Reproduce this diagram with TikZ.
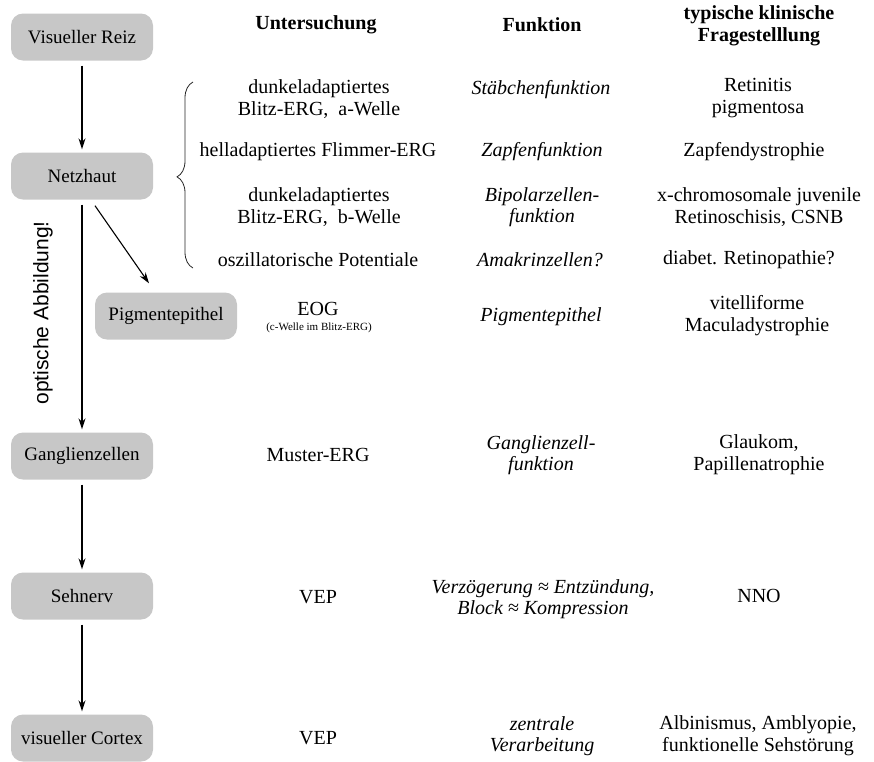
\documentclass[tikz,border=0pt]{standalone}
\usepackage{fontspec}
\setmainfont{Liberation Serif}
\newfontfamily\abbfont{Liberation Sans}
\usetikzlibrary{arrows.meta,calc,decorations.pathreplacing}

\tikzset{
    stufe/.style={fill=black!22, rounded corners=12pt, minimum width=142pt,
        minimum height=47pt, inner sep=0pt, font=\fontsize{19}{22}\selectfont},
    zelle/.style={align=center, inner sep=0pt, font=\fontsize{20}{22}\selectfont},
    kursiv/.style={zelle, font=\fontsize{20}{21}\selectfont\itshape},
    kopf/.style={zelle, font=\fontsize{20}{22}\selectfont\bfseries},
    pfeil/.style={-{Stealth[length=11pt,width=7pt]}, line width=1.1pt,
        shorten >=3pt, shorten <=5pt},
}

\begin{document}
\begin{tikzpicture}[x=1pt,y=-1pt]
    \useasboundingbox (0,0) rectangle (874,761);

    % Stationen der Sehbahn
    \node[stufe] (reiz) at (82,37) {Visueller Reiz};
    \node[stufe] (netz) at (82,176) {Netzhaut};
    \node[stufe] (pig) at (166,316) {Pigmentepithel};
    \node[stufe] (gang) at (82,456) {Ganglienzellen};
    \node[stufe] (sehn) at (82,596) {Sehnerv};
    \node[stufe] (cortex) at (82,738) {visueller Cortex};

    \draw[pfeil] (reiz) -- (netz);
    \draw[pfeil] (netz) -- (gang);
    \draw[pfeil] (gang) -- (sehn);
    \draw[pfeil] (sehn) -- (cortex);
    \draw[pfeil, shorten <=0pt, shorten >=0pt] ($(netz.south)+(13,6)$) -- ($(pig.north)+(-17,-9)$);

    \node[rotate=90, inner sep=0pt, font=\abbfont\fontsize{21}{22}\selectfont] (optik) at (43,313) {optische Abbildung!};

    % Tabellenkopf
    \node[kopf] (hunt) at (316,25) {Untersuchung};
    \node[kopf] (hfkt) at (542,25) {Funktion};
    \node[kopf] (hfrage) at (759,26) {typische klinische\\Fragestelllung};

    % Netzhaut
    \coordinate (kl1) at (193,268);
    \coordinate (kl2) at (193,82);
    \draw[decorate, decoration={brace, amplitude=16pt, aspect=0.49}, line width=0.8pt, black!85] (kl1) -- (kl2);

    \node[zelle] (u1) at (319,99) {dunkeladaptiertes\\Blitz-ERG,~ a-Welle};
    \node[kursiv] (f1) at (541,90) {Stäbchenfunktion};
    \node[zelle] (k1) at (758,98) {Retinitis\\pigmentosa};

    \node[zelle] (u2) at (318,152) {helladaptiertes Flimmer-ERG};
    \node[kursiv] (f2) at (542,152) {Zapfenfunktion};
    \node[zelle] (k2) at (754,152) {Zapfendystrophie};

    \node[zelle] (u3) at (319,207) {dunkeladaptiertes\\Blitz-ERG,~ b-Welle};
    \node[kursiv] (f3) at (542,207) {Bipolarzellen-\\funktion};
    \node[zelle] (k3) at (759,207) {x-chromosomale juvenile\\Retinoschisis, CSNB};

    \node[zelle] (u4) at (318,260) {oszillatorische Potentiale};
    \node[kursiv] (f4) at (540,260) {Amakrinzellen?};
    \node[zelle] (k4) at (749,260) {diabet. Retinopathie?};

    % Pigmentepithel
    \node[zelle] (u5) at (318,309) {EOG};
    \node[zelle, font=\fontsize{11}{12}\selectfont] (u5b) at (319,328) {(c-Welle im Blitz-ERG)};
    \node[kursiv] (f5) at (541,317) {Pigmentepithel};
    \node[zelle] (k5) at (757,316) {vitelliforme\\Maculadystrophie};

    % Ganglienzellen
    \node[zelle] (u6) at (318,455) {Muster-ERG};
    \node[kursiv] (f6) at (541,455) {Ganglienzell-\\funktion};
    \node[zelle] (k6) at (759,455) {Glaukom,\\Papillenatrophie};

    % Sehnerv
    \node[zelle] (u7) at (318,597) {VEP};
    \node[kursiv] (f7) at (543,599) {Verzögerung ≈ Entzündung,\\Block ≈ Kompression};
    \node[zelle] (k7) at (759,596) {NNO};

    % Cortex
    \node[zelle] (u8) at (318,738) {VEP};
    \node[kursiv] (f8) at (542,736) {zentrale\\Verarbeitung};
    \node[zelle] (k8) at (758,736) {Albinismus, Amblyopie,\\funktionelle Sehstörung};
\end{tikzpicture}
\end{document}
